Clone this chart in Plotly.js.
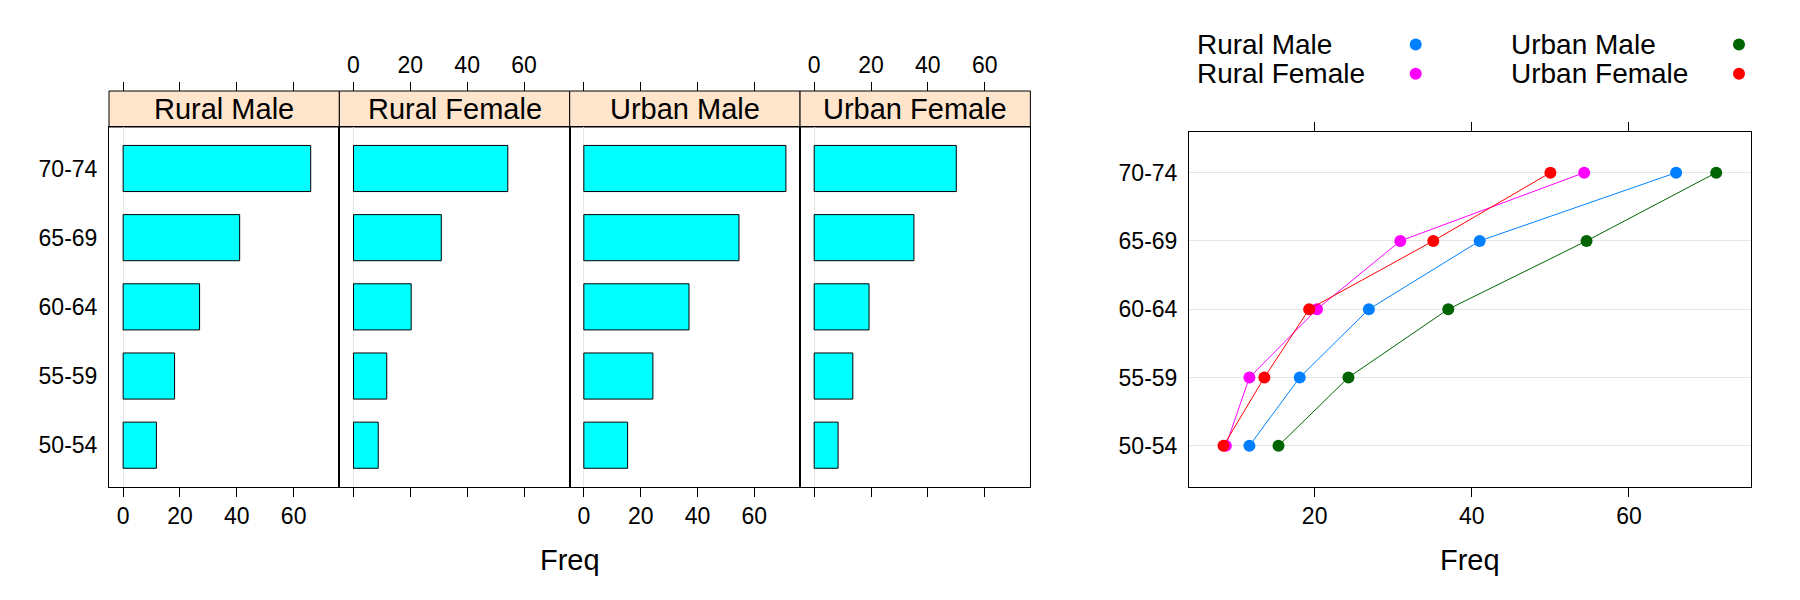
<!DOCTYPE html>
<html>
<head>
<meta charset="utf-8">
<script src="https://cdn.plot.ly/plotly-3.0.1.min.js"></script>
<style>
  body { margin: 0; background: #fff; }
  #myDiv { width: 1800px; height: 600px; }
</style>
</head>
<body>
<div id="myDiv"></div>
<script>
// VADeaths
const ages = ["50-54", "55-59", "60-64", "65-69", "70-74"]
const groups = ["Rural Male", "Rural Female", "Urban Male", "Urban Female"]
const ruralMale = [11.7, 18.1, 26.9, 41.0, 66.0]
const ruralFemale = [8.7, 11.7, 20.3, 30.9, 54.3]
const urbanMale = [15.4, 24.3, 37.0, 54.6, 71.1]
const urbanFemale = [8.4, 13.6, 19.3, 35.1, 50.0]
const series = [ruralMale, ruralFemale, urbanMale, urbanFemale]
const dotColors = ["#0080ff", "#ff00ff", "#006400", "#ff0000"]
const barTicks = [0, 20, 40, 60]
const dotTicks = [20, 40, 60]

const W = 1800
const H = 600
const fx = (px) => px / W
const fy = (px) => 1 - px / H
const font = "Liberation Sans, Arial, Helvetica, sans-serif"

// lattice style range: data range padded by 7%
function padRange(lo, hi) {
  const d = (hi - lo) * 0.07
  return [lo - d, hi + d]
}
const allVals = [].concat(...series)
const barRange = padRange(0, Math.max(...allVals))
const dotRange = padRange(Math.min(...allVals), Math.max(...allVals))
const catRange = [-0.6, ages.length - 0.4]

const left0 = 109
const panelW = 230.35
const panelTop = 127
const panelBot = 486.7
const stripTop = 91

const data = []
const layout = {
  width: W,
  height: H,
  margin: { l: 0, r: 0, t: 0, b: 0 },
  paper_bgcolor: "#fff",
  plot_bgcolor: "rgba(0,0,0,0)",
  showlegend: false,
  font: { family: font, color: "#000" },
  shapes: [],
  annotations: [],
}

const tickStyle = {
  ticks: "outside",
  ticklen: 9,
  tickwidth: 1,
  tickcolor: "#000",
  tickfont: { size: 23, family: font, color: "#000" },
}

for (let i = 0; i < groups.length; i++) {
  const n = i + 1
  const x0 = left0 + i * panelW
  const x1 = x0 + panelW
  data.push({
    type: "bar",
    orientation: "h",
    x: series[i],
    y: ages,
    xaxis: "x" + n,
    yaxis: "y" + n,
    width: 2 / 3,
    marker: { color: "#00ffff", line: { color: "#000", width: 1 } },
    hoverinfo: "x+y",
  })
  layout["xaxis" + n] = Object.assign({}, tickStyle, {
    domain: [fx(x0), fx(x1)],
    anchor: "y" + n,
    range: barRange,
    tickvals: barTicks,
    showticklabels: i % 2 === 0,
    showline: true,
    mirror: true,
    linecolor: "#000",
    linewidth: 1,
    showgrid: false,
    zeroline: true,
    zerolinecolor: "#e6e6e6",
    zerolinewidth: 1,
  })
  // ticks above the strip
  layout["xaxis" + (n + 5)] = Object.assign({}, tickStyle, {
    overlaying: "x" + n,
    side: "top",
    anchor: "free",
    position: fy(stripTop),
    range: barRange,
    tickvals: barTicks,
    showticklabels: i % 2 === 1,
    showline: false,
    showgrid: false,
    zeroline: false,
  })
  data.push({ type: "scatter", x: [], y: [], xaxis: "x" + (n + 5), yaxis: "y" + n, hoverinfo: "skip" })
  layout["yaxis" + n] = {
    domain: [fy(panelBot), fy(panelTop)],
    anchor: "x" + n,
    type: "category",
    categoryarray: ages,
    range: catRange,
    ticks: "",
    showticklabels: i === 0,
    ticklabelstandoff: 6,
    tickfont: { size: 23, family: font, color: "#000" },
    showline: true,
    mirror: true,
    linecolor: "#000",
    linewidth: 1,
    showgrid: false,
    zeroline: false,
  }
  layout.shapes.push({
    type: "rect",
    xref: "paper",
    yref: "paper",
    x0: fx(x0),
    x1: fx(x1),
    y0: fy(panelTop),
    y1: fy(stripTop),
    fillcolor: "#ffe5cc",
    line: { color: "#000", width: 1 },
    layer: "below",
  })
  layout.annotations.push({
    xref: "paper",
    yref: "paper",
    x: fx((x0 + x1) / 2),
    y: fy((panelTop + stripTop) / 2),
    text: groups[i],
    showarrow: false,
    xanchor: "center",
    yanchor: "middle",
    font: { size: 29, family: font, color: "#000" },
  })
}

// dot plot
const dotL = 1189
const dotR = 1750.7
const dotTop = 131.7
for (let i = 0; i < groups.length; i++) {
  data.push({
    type: "scatter",
    mode: "lines+markers",
    name: groups[i],
    x: series[i],
    y: ages,
    xaxis: "x5",
    yaxis: "y5",
    line: { color: dotColors[i], width: 1 },
    marker: { color: dotColors[i], size: 12 },
  })
}
layout.xaxis5 = Object.assign({}, tickStyle, {
  domain: [fx(dotL), fx(dotR)],
  anchor: "y5",
  range: dotRange,
  tickvals: dotTicks,
  showline: true,
  mirror: "ticks",
  linecolor: "#000",
  linewidth: 1,
  showgrid: false,
  zeroline: false,
})
layout.yaxis5 = {
  domain: [fy(panelBot), fy(dotTop)],
  anchor: "x5",
  type: "category",
  categoryarray: ages,
  range: catRange,
  ticks: "",
  ticklabelstandoff: 6,
  tickfont: { size: 23, family: font, color: "#000" },
  showline: true,
  mirror: true,
  linecolor: "#000",
  linewidth: 1,
  showgrid: true,
  gridcolor: "#e6e6e6",
  gridwidth: 1,
  zeroline: false,
}

// key: text then dot, two columns
const keyTextX = [1196, 1509.5]
const keyDotX = [1415.7, 1739]
const keyRowY = [44.5, 73.8]
for (let i = 0; i < groups.length; i++) {
  const col = Math.floor(i / 2)
  const row = i % 2
  layout.annotations.push({
    xref: "paper",
    yref: "paper",
    x: fx(keyTextX[col]),
    y: fy(keyRowY[row]),
    text: groups[i],
    showarrow: false,
    xanchor: "left",
    yanchor: "middle",
    borderpad: 0,
    font: { size: 28, family: font, color: "#000" },
  })
  const r = 6
  layout.shapes.push({
    type: "circle",
    xref: "paper",
    yref: "paper",
    x0: fx(keyDotX[col] - r),
    x1: fx(keyDotX[col] + r),
    y0: fy(keyRowY[row] + r),
    y1: fy(keyRowY[row] - r),
    fillcolor: dotColors[i],
    line: { width: 0 },
  })
}

// axis labels
const xlabPos = [(left0 + left0 + 4 * panelW) / 2, (dotL + dotR) / 2]
xlabPos.forEach((p) => {
  layout.annotations.push({
    xref: "paper",
    yref: "paper",
    x: fx(p),
    y: fy(560),
    text: "Freq",
    showarrow: false,
    xanchor: "center",
    yanchor: "middle",
    font: { size: 29, family: font, color: "#000" },
  })
})

Plotly.newPlot("myDiv", data, layout, { staticPlot: true })
</script>
</body>
</html>
